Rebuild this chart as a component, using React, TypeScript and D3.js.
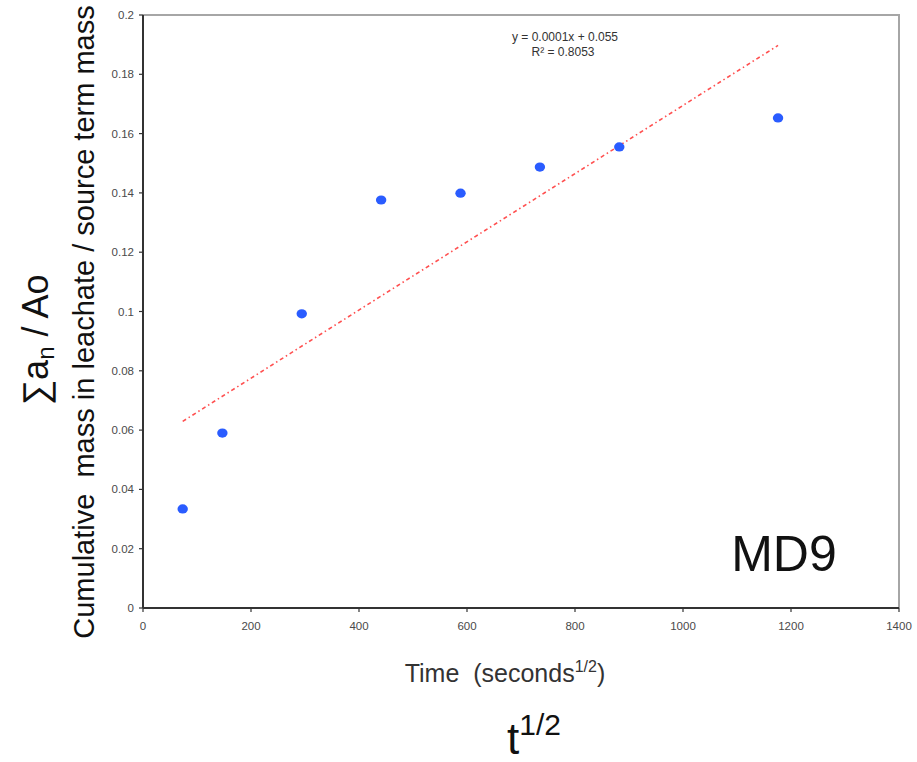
import React from "react";
import * as d3 from "d3";

const timeValues = [73.5, 147, 294, 441, 588, 735, 882, 1176];
const ratioValues = [0.0334, 0.059, 0.0992, 0.1376, 0.1399, 0.1487, 0.1555, 0.1653];
const xTicks = [0, 200, 400, 600, 800, 1000, 1200, 1400];
const yTicks = [0, 0.02, 0.04, 0.06, 0.08, 0.1, 0.12, 0.14, 0.16, 0.18, 0.2];
const trendSlope = 0.000115;
const trendIntercept = 0.0545;
const equationLines = ["y = 0.0001x + 0.055", "R² = 0.8053"];

export default function App() {
  const W = 917, H = 762;
  const left = 143, right = 899, top = 15, bottom = 608;
  const x = d3.scaleLinear().domain([0, 1400]).range([left, right]);
  const y = d3.scaleLinear().domain([0, 0.2]).range([bottom, top]);
  const xMin = d3.min(timeValues)!;
  const xMax = d3.max(timeValues)!;
  const trendPath = d3.line<number>()
    .x((d) => x(d))
    .y((d) => y(trendSlope * d + trendIntercept))([xMin, xMax]);
  const font = "Liberation Sans, Arial, sans-serif";
  return (
    <svg width={W} height={H} style={{ position: "absolute", left: 0, top: 0, background: "#fff" }} fontFamily={font}>
      <rect x={0} y={0} width={W} height={H} fill="#fff" />
      <path d={`M${left},${top}H${right}V${bottom}`} fill="none" stroke="#a6a6a6" strokeWidth={2} />
      <line x1={left} x2={left} y1={top} y2={bottom} stroke="#333" strokeWidth={2} />
      <line x1={left} x2={right} y1={bottom} y2={bottom} stroke="#333" strokeWidth={2} />
      {yTicks.map((t) => (
        <g key={"y" + t}>
          <line x1={left - 4} x2={left} y1={y(t)} y2={y(t)} stroke="#333" strokeWidth={1.2} />
          <text x={left - 9} y={y(t)} dy="0.35em" textAnchor="end" fontSize={11.5} fill="#4a4a4a">
            {String(t)}
          </text>
        </g>
      ))}
      {xTicks.map((t) => (
        <g key={"x" + t}>
          <line x1={x(t)} x2={x(t)} y1={bottom} y2={bottom + 4} stroke="#333" strokeWidth={1.2} />
          <text x={x(t)} y={bottom + 22} textAnchor="middle" fontSize={11.5} fill="#4a4a4a">
            {String(t)}
          </text>
        </g>
      ))}
      <path d={trendPath!} fill="none" stroke="#ff5050" strokeWidth={1.6} strokeDasharray="4,3,1.5,3" />
      {timeValues.map((t, i) => (
        <ellipse key={i} cx={x(t)} cy={y(ratioValues[i])} rx={5.2} ry={4.6} fill="#2a5cff" />
      ))}
      <text x={565} y={41} textAnchor="middle" fontSize={12} fill="#333">{equationLines[0]}</text>
      <text x={563} y={56} textAnchor="middle" fontSize={12} fill="#333">{equationLines[1]}</text>
      <text x={784} y={571} textAnchor="middle" fontSize={50} fill="#111">MD9</text>
      <text transform="translate(94,322) rotate(-90)" textAnchor="middle" fontSize={29} fill="#111" xmlSpace="preserve">
        {"Cumulative  mass in leachate / source term mass"}
      </text>
      <text transform="translate(48,340) rotate(-90)" textAnchor="middle" fontSize={36} fill="#111">
        ∑a<tspan fontSize={24} dy="6">n</tspan><tspan dy="-6"> / Ao</tspan>
      </text>
      <text x={505} y={682} textAnchor="middle" fontSize={25} fill="#333" xmlSpace="preserve">
        {"Time  (seconds"}<tspan fontSize={16} dy="-10">1/2</tspan><tspan dy="10">)</tspan>
      </text>
      <text x={534} y={754} textAnchor="middle" fontSize={44} fill="#111">
        t<tspan fontSize={30} dy="-19">1/2</tspan>
      </text>
    </svg>
  );
}
